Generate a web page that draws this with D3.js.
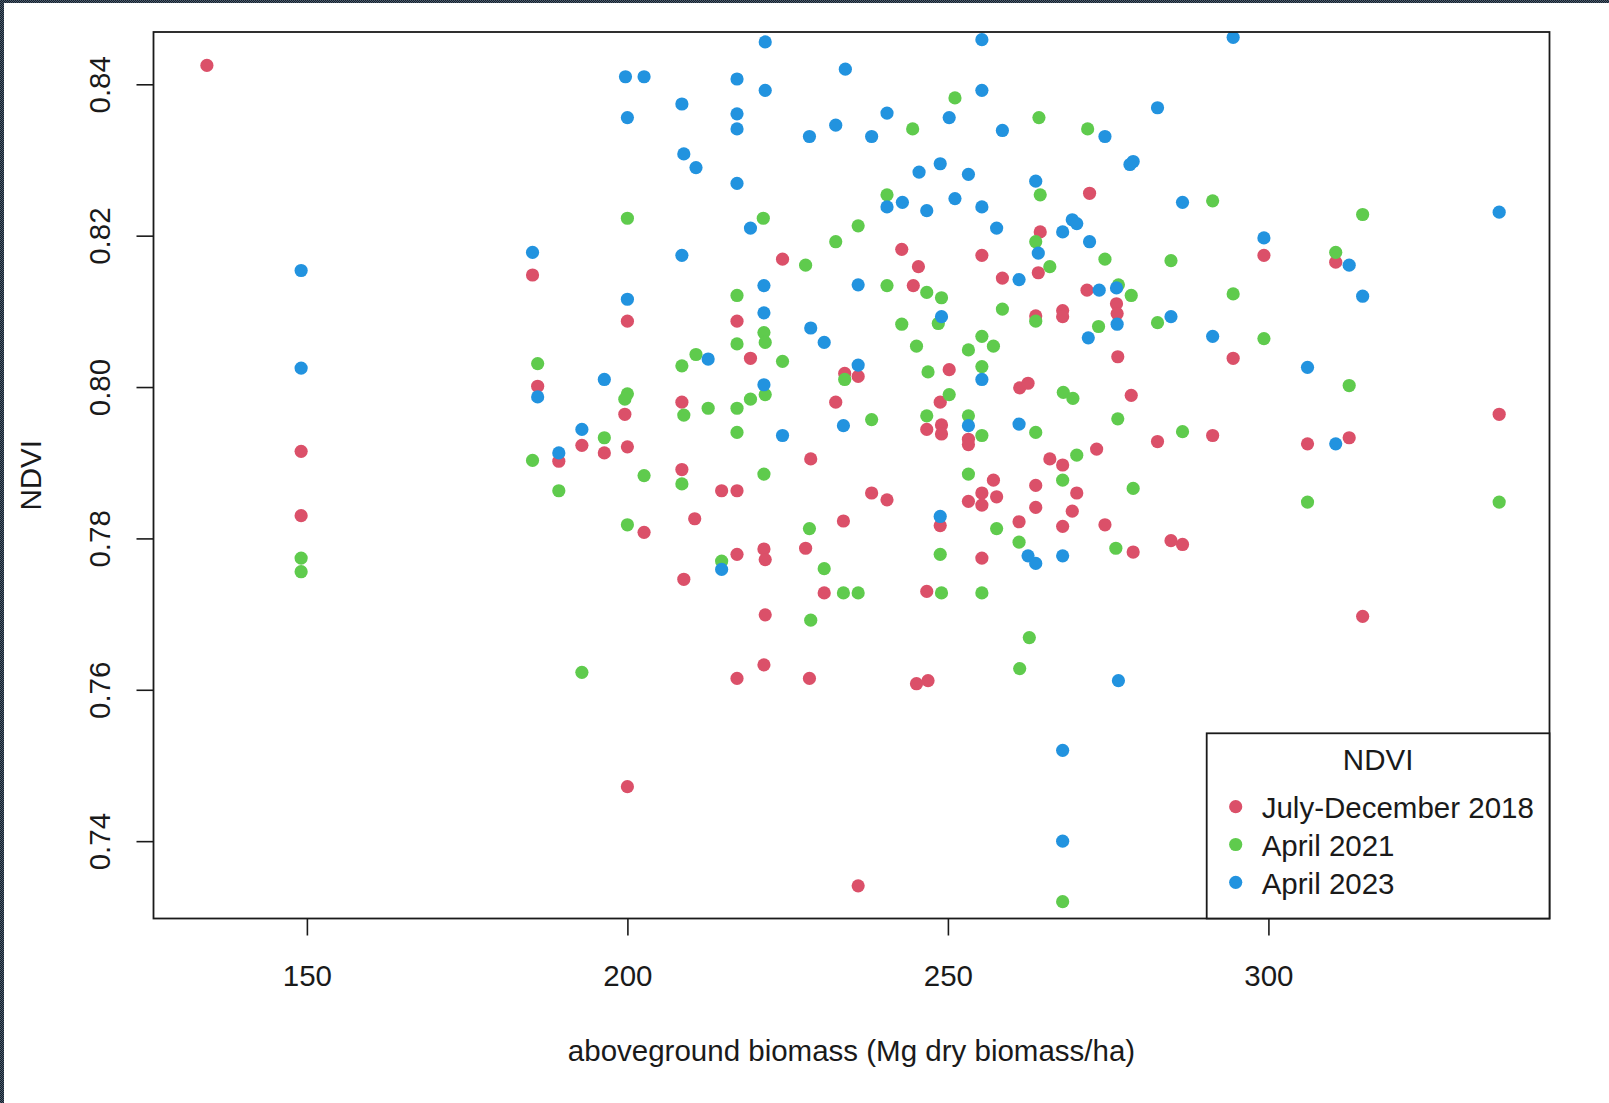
<!DOCTYPE html>
<html>
<head>
<meta charset="utf-8">
<script src="https://cdn.jsdelivr.net/npm/d3@7"></script>
<style>
  html, body { margin: 0; padding: 0; background: #fff; }
  svg { display: block; }
  text { font-family: "Liberation Sans", Arial, sans-serif; fill: #1a1a1a; }
</style>
</head>
<body>
<svg id="chart"></svg>
<script>
const series_names = ["July-December 2018", "April 2021", "April 2023"];
const series_colors = ["#DB5069", "#5FCB4D", "#2293DF"];
const x_ticks = [150, 200, 250, 300];
const y_ticks = [0.74, 0.76, 0.78, 0.80, 0.82, 0.84];

// July-December 2018
const biomass_2018 = [134.4, 185.2, 200.0, 224.2, 242.8, 245.4, 255.3, 258.5, 264.1, 264.4, 272.1, 271.7, 244.6, 217.1, 263.7, 267.9, 267.9, 299.3, 310.5, 276.3, 276.4, 186.0, 199.6, 192.9, 196.4, 200.0, 189.3, 149.1, 149.1, 202.6, 219.2, 233.9, 236.0, 250.2, 261.2, 262.5, 208.5, 232.5, 248.8, 246.7, 249.0, 249.0, 253.2, 253.2, 273.2, 265.9, 267.9, 228.6, 208.5, 214.7, 217.1, 238.1, 240.5, 257.1, 255.3, 257.6, 253.2, 255.3, 263.7, 270.1, 263.7, 269.4, 261.1, 267.9, 255.3, 248.8, 210.5, 233.7, 217.1, 221.3, 221.5, 227.8, 208.8, 230.7, 246.7, 221.5, 221.3, 217.1, 228.4, 245.1, 246.9, 236.0, 200.0, 276.5, 294.5, 336.0, 278.6, 282.7, 291.3, 306.1, 312.6, 274.5, 278.9, 284.8, 286.6, 314.7];
const ndvi_2018 = [0.8425, 0.8148, 0.8087, 0.8169, 0.8182, 0.8159, 0.8174, 0.8144, 0.8151, 0.8205, 0.8256, 0.8128, 0.8134, 0.8087, 0.8094, 0.8101, 0.8093, 0.8174, 0.8165, 0.8110, 0.8097, 0.8001, 0.7964, 0.7923, 0.7913, 0.7921, 0.7902, 0.7915, 0.7830, 0.7808, 0.8038, 0.8018, 0.8014, 0.8023, 0.7999, 0.8005, 0.7980, 0.7980, 0.7980, 0.7944, 0.7950, 0.7938, 0.7931, 0.7924, 0.7918, 0.7905, 0.7897, 0.7905, 0.7891, 0.7863, 0.7863, 0.7860, 0.7851, 0.7877, 0.7860, 0.7855, 0.7849, 0.7844, 0.7870, 0.7860, 0.7841, 0.7836, 0.7822, 0.7816, 0.7774, 0.7817, 0.7826, 0.7823, 0.7779, 0.7786, 0.7772, 0.7787, 0.7746, 0.7728, 0.7730, 0.7699, 0.7633, 0.7615, 0.7615, 0.7608, 0.7612, 0.7341, 0.7472, 0.8040, 0.8038, 0.7964, 0.7989, 0.7928, 0.7936, 0.7925, 0.7933, 0.7818, 0.7782, 0.7797, 0.7792, 0.7697];

// April 2021
const biomass_2021 = [200.0, 251.1, 244.5, 264.2, 271.8, 240.5, 264.4, 221.2, 236.0, 232.5, 263.7, 227.8, 265.9, 274.5, 240.5, 246.7, 249.0, 217.1, 258.5, 263.7, 242.8, 248.5, 291.3, 314.7, 310.5, 284.8, 276.6, 278.6, 273.5, 282.7, 294.5, 186.0, 200.0, 199.6, 196.4, 185.2, 202.6, 189.3, 149.1, 149.1, 200.0, 221.3, 221.5, 217.1, 245.1, 253.2, 255.3, 257.1, 210.7, 208.5, 224.2, 233.9, 246.9, 255.3, 268.0, 269.5, 221.5, 219.2, 208.8, 212.6, 217.1, 217.1, 238.1, 250.2, 246.7, 253.2, 255.3, 263.7, 270.1, 208.5, 221.3, 253.2, 267.9, 257.6, 261.1, 248.8, 228.4, 214.7, 230.7, 233.7, 236.0, 249.0, 255.3, 228.6, 262.7, 261.2, 267.9, 192.9, 299.3, 312.6, 276.5, 286.6, 278.9, 306.1, 336.0, 276.2];
const ndvi_2021 = [0.8223, 0.8382, 0.8341, 0.8356, 0.8341, 0.8254, 0.8254, 0.8223, 0.8213, 0.8192, 0.8192, 0.8161, 0.8159, 0.8169, 0.8134, 0.8125, 0.8118, 0.8121, 0.8103, 0.8087, 0.8083, 0.8084, 0.8246, 0.8228, 0.8178, 0.8167, 0.8135, 0.8121, 0.8080, 0.8085, 0.8123, 0.8031, 0.7991, 0.7984, 0.7933, 0.7903, 0.7883, 0.7863, 0.7774, 0.7756, 0.7818, 0.8072, 0.8059, 0.8057, 0.8054, 0.8049, 0.8067, 0.8054, 0.8043, 0.8028, 0.8034, 0.8010, 0.8020, 0.8027, 0.7993, 0.7985, 0.7990, 0.7984, 0.7963, 0.7972, 0.7972, 0.7940, 0.7957, 0.7990, 0.7962, 0.7962, 0.7936, 0.7940, 0.7910, 0.7872, 0.7885, 0.7885, 0.7877, 0.7813, 0.7795, 0.7779, 0.7813, 0.7770, 0.7760, 0.7728, 0.7728, 0.7728, 0.7728, 0.7692, 0.7669, 0.7628, 0.7320, 0.7623, 0.8064, 0.8002, 0.7958, 0.7941, 0.7866, 0.7848, 0.7848, 0.7787];

// April 2023
const biomass_2023 = [199.7, 202.6, 200.0, 149.1, 185.2, 200.0, 221.5, 255.3, 217.1, 221.5, 234.0, 208.5, 217.1, 217.1, 228.4, 232.5, 238.1, 240.5, 250.2, 255.3, 258.5, 274.5, 208.8, 210.7, 217.1, 245.5, 248.8, 253.2, 263.7, 240.5, 242.9, 246.7, 251.1, 255.3, 219.2, 208.5, 257.6, 264.1, 267.9, 269.4, 270.1, 272.1, 261.1, 273.6, 221.3, 236.0, 221.3, 228.6, 249.0, 294.5, 282.7, 278.9, 278.4, 286.6, 336.0, 299.3, 312.6, 314.7, 276.3, 276.4, 284.8, 291.3, 149.1, 186.0, 196.4, 192.9, 189.3, 271.9, 230.7, 212.6, 236.0, 255.3, 221.3, 224.2, 233.7, 253.2, 261.1, 262.5, 263.7, 267.9, 248.8, 214.7, 267.9, 267.9, 306.1, 310.5, 276.6];
const ndvi_2023 = [0.8410, 0.8410, 0.8356, 0.8154, 0.8178, 0.8116, 0.8456, 0.8459, 0.8407, 0.8392, 0.8420, 0.8374, 0.8361, 0.8341, 0.8331, 0.8346, 0.8331, 0.8362, 0.8356, 0.8392, 0.8339, 0.8331, 0.8308, 0.8290, 0.8269, 0.8284, 0.8295, 0.8281, 0.8272, 0.8238, 0.8244, 0.8233, 0.8249, 0.8238, 0.8210, 0.8174, 0.8210, 0.8177, 0.8205, 0.8221, 0.8216, 0.8192, 0.8142, 0.8128, 0.8134, 0.8135, 0.8098, 0.8078, 0.8093, 0.8462, 0.8369, 0.8298, 0.8294, 0.8244, 0.8231, 0.8197, 0.8161, 0.8120, 0.8131, 0.8083, 0.8093, 0.8067, 0.8025, 0.7987, 0.8010, 0.7944, 0.7913, 0.8065, 0.8059, 0.8037, 0.8029, 0.8010, 0.8003, 0.7936, 0.7949, 0.7949, 0.7951, 0.7777, 0.7767, 0.7777, 0.7829, 0.7759, 0.7520, 0.7400, 0.8026, 0.7925, 0.7612];

const series = [
  {biomass: biomass_2018, ndvi: ndvi_2018},
  {biomass: biomass_2021, ndvi: ndvi_2021},
  {biomass: biomass_2023, ndvi: ndvi_2023}
];

const width = 1609, height = 1103;
const box = {left: 153.5, right: 1549.5, top: 32, bottom: 918.5};
const font_size = 29.5;
const tick_len = 17;
const dot_r = 6.6;

const svg = d3.select("svg#chart")
  .attr("width", width)
  .attr("height", height);

// dark dotted frame at top and left of the screenshot
const defs = svg.append("defs");
const pat = defs.append("pattern")
  .attr("id", "frame_pat")
  .attr("width", 2).attr("height", 2)
  .attr("patternUnits", "userSpaceOnUse");
pat.append("rect").attr("width", 2).attr("height", 2).attr("fill", "#16202b");
pat.append("rect").attr("width", 1).attr("height", 1).attr("fill", "#4a5a6c");
pat.append("rect").attr("x", 1).attr("y", 1).attr("width", 1).attr("height", 1).attr("fill", "#4a5a6c");

svg.append("rect").attr("width", width).attr("height", height).attr("fill", "#fff");
svg.append("rect").attr("x", 0).attr("y", 0).attr("width", width).attr("height", 3).attr("fill", "url(#frame_pat)");
svg.append("rect").attr("x", 0).attr("y", 0).attr("width", 4).attr("height", height).attr("fill", "url(#frame_pat)");

defs.append("clipPath").attr("id", "plot_clip")
  .append("rect")
    .attr("x", box.left).attr("y", box.top)
    .attr("width", box.right - box.left).attr("height", box.bottom - box.top);

const x = d3.scaleLinear()
  .domain([126.07, 343.85])
  .range([box.left, box.right]);

const y = d3.scaleLinear()
  .domain([0.72978, 0.84691])
  .range([box.bottom, box.top]);

// points, drawn in series order like R's points()
const g_points = svg.append("g").attr("clip-path", "url(#plot_clip)");
series.forEach((s, i) => {
  const pts = s.biomass.map((b, j) => ({b, n: s.ndvi[j]}));
  g_points.append("g")
    .selectAll("circle")
    .data(pts)
    .enter().append("circle")
      .attr("cx", d => x(d.b))
      .attr("cy", d => y(d.n))
      .attr("r", dot_r)
      .attr("fill", series_colors[i]);
});

// axes
const x_axis = svg.append("g")
  .attr("transform", `translate(0,${box.bottom})`)
  .call(d3.axisBottom(x).tickValues(x_ticks).tickSize(tick_len).tickPadding(0).tickFormat(d3.format("d")));
x_axis.select(".domain").remove();
x_axis.selectAll("line").attr("stroke", "#1a1a1a").attr("stroke-width", 1.6);
x_axis.selectAll("text")
  .attr("y", 986 - box.bottom)
  .attr("dy", null)
  .attr("font-size", font_size)
  .attr("fill", "#1a1a1a");

const y_axis = svg.append("g")
  .attr("transform", `translate(${box.left},0)`)
  .call(d3.axisLeft(y).tickValues(y_ticks).tickSize(tick_len).tickFormat(d3.format(".2f")));
y_axis.select(".domain").remove();
y_axis.selectAll("line").attr("stroke", "#1a1a1a").attr("stroke-width", 1.6);
y_axis.selectAll(".tick text")
  .attr("x", null).attr("dy", null)
  .attr("transform", `translate(${110 - box.left},0) rotate(-90)`)
  .attr("text-anchor", "middle")
  .attr("font-size", font_size)
  .attr("fill", "#1a1a1a");

svg.append("rect")
  .attr("x", box.left).attr("y", box.top)
  .attr("width", box.right - box.left).attr("height", box.bottom - box.top)
  .attr("fill", "none")
  .attr("stroke", "#1a1a1a")
  .attr("stroke-width", 1.8);

// axis titles
svg.append("text")
  .attr("x", (box.left + box.right) / 2)
  .attr("y", 1061)
  .attr("text-anchor", "middle")
  .attr("font-size", font_size)
  .text("aboveground biomass (Mg dry biomass/ha)");

svg.append("text")
  .attr("transform", `translate(41,${(box.top + box.bottom) / 2}) rotate(-90)`)
  .attr("text-anchor", "middle")
  .attr("font-size", font_size)
  .text("NDVI");

// legend
const legend = {left: 1206.7, top: 733.3};
svg.append("rect")
  .attr("x", legend.left).attr("y", legend.top)
  .attr("width", box.right - legend.left).attr("height", box.bottom - legend.top)
  .attr("fill", "#fff")
  .attr("stroke", "#1a1a1a")
  .attr("stroke-width", 1.8);

svg.append("text")
  .attr("x", (legend.left + box.right) / 2)
  .attr("y", 770)
  .attr("text-anchor", "middle")
  .attr("font-size", font_size)
  .text("NDVI");

const items = svg.append("g")
  .selectAll("g")
  .data(series_names)
  .enter().append("g")
    .attr("transform", (d, i) => `translate(0,${818.3 + i * 37.8})`);

items.append("circle")
  .attr("cx", 1235.7)
  .attr("cy", -11.6)
  .attr("r", dot_r)
  .attr("fill", (d, i) => series_colors[i]);

items.append("text")
  .attr("x", 1261.7)
  .attr("y", 0)
  .attr("font-size", font_size)
  .text(d => d);
</script>
</body>
</html>
